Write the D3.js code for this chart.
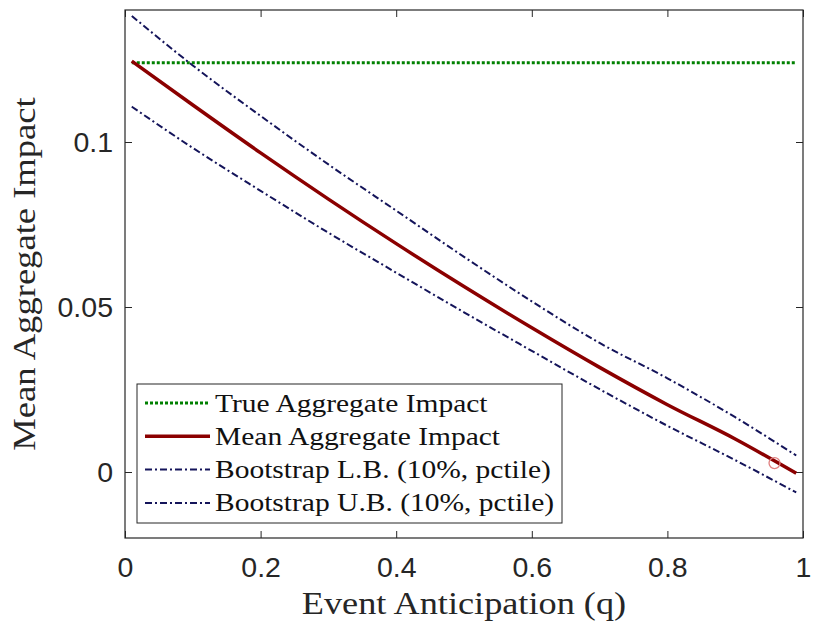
<!DOCTYPE html>
<html>
<head>
<meta charset="utf-8">
<script src="https://cdn.jsdelivr.net/npm/d3@7"></script>
<style>
  body { margin: 0; background: #fff; }
  .tick text { font-family: "Liberation Sans", Arial, sans-serif; font-size: 28.5px; fill: #262626; }
  .tick line { stroke: #262626; }
</style>
</head>
<body>
<svg id="chart" width="814" height="629"></svg>
<script>
// values
var qValues      = [0.01, 0.1, 0.2, 0.3, 0.4, 0.5, 0.6, 0.7, 0.8, 0.9, 0.99];
var meanImpact   = [0.1245, 0.1112, 0.0967, 0.0827, 0.0692, 0.0562, 0.0437, 0.0317, 0.0204, 0.0100, -0.0004];
var upperBound   = [0.1382, 0.1232, 0.1079, 0.0932, 0.0792, 0.0652, 0.0517, 0.0391, 0.0284, 0.0166, 0.0050];
var lowerBound   = [0.1107, 0.0982, 0.0852, 0.0725, 0.0604, 0.0484, 0.0367, 0.0251, 0.0140, 0.0036, -0.0062];
var trueImpact   = [0.1240, 0.1240];
var trueQ        = [0.01, 0.99];
var markerPoint  = [[0.958, 0.0027]];
var xTicks = [0, 0.2, 0.4, 0.6, 0.8, 1];
var yTicks = [0, 0.05, 0.1];
var legendLabels = ["True Aggregate Impact", "Mean Aggregate Impact",
                    "Bootstrap L.B. (10%, pctile)", "Bootstrap U.B. (10%, pctile)"];

var margin = {left: 125, right: 11, top: 10, bottom: 91};
var width = 814 - margin.left - margin.right;
var height = 629 - margin.top - margin.bottom;

var svg = d3.select("#chart");
var g = svg.append("g").attr("transform", "translate(" + margin.left + "," + margin.top + ")");

var x = d3.scaleLinear().domain([0, 1]).range([0, width]);
var y = d3.scaleLinear().domain([-0.02, 0.14]).range([height, 0]);

// serif text in the picture is wider than Liberation Serif, stretch it a bit
function widen(sel, k) {
    sel.each(function() {
        var len = this.getComputedTextLength();
        d3.select(this).attr("textLength", len * k).attr("lengthAdjust", "spacingAndGlyphs");
    });
}

// axes, ticks pointing inward on all four sides
g.append("g").attr("transform", "translate(0," + height + ")")
    .call(d3.axisBottom(x).tickValues(xTicks).tickSize(-7).tickPadding(19)
        .tickFormat(function(d) { return d3.format("")(d); }))
    .call(function(a) { a.select(".domain").remove(); });
g.append("g")
    .call(d3.axisLeft(y).tickValues(yTicks).tickSize(-7).tickPadding(12)
        .tickFormat(function(d) { return d3.format("")(d); }))
    .call(function(a) { a.select(".domain").remove(); });
g.append("g")
    .call(d3.axisTop(x).tickValues(xTicks).tickSize(-7).tickFormat(""))
    .call(function(a) { a.select(".domain").remove(); });
g.append("g").attr("transform", "translate(" + width + ",0)")
    .call(d3.axisRight(y).tickValues(yTicks).tickSize(-7).tickFormat(""))
    .call(function(a) { a.select(".domain").remove(); });

g.append("rect")
    .attr("width", width).attr("height", height)
    .attr("fill", "none").attr("stroke", "#262626").attr("stroke-width", 1.2);

// lines
var line = d3.line().curve(d3.curveMonotoneX)
    .x(function(d) { return x(d[0]); })
    .y(function(d) { return y(d[1]); });

var series = [
    {vals: d3.zip(trueQ, trueImpact), color: "#008000", w: 3, dash: "3,2"},
    {vals: d3.zip(qValues, upperBound), color: "#14145a", w: 2, dash: "7,3,2,3"},
    {vals: d3.zip(qValues, lowerBound), color: "#14145a", w: 2, dash: "7,3,2,3"},
    {vals: d3.zip(qValues, meanImpact), color: "#8b0000", w: 3.5, dash: null}
];

g.selectAll(".series").data(series).enter().append("path")
    .attr("class", "series")
    .attr("d", function(d) { return line(d.vals); })
    .attr("fill", "none")
    .attr("stroke", function(d) { return d.color; })
    .attr("stroke-width", function(d) { return d.w; })
    .attr("stroke-dasharray", function(d) { return d.dash; });

g.selectAll(".marker").data(markerPoint).enter().append("circle")
    .attr("class", "marker")
    .attr("cx", function(d) { return x(d[0]); })
    .attr("cy", function(d) { return y(d[1]); })
    .attr("r", 5.5)
    .attr("fill", "none")
    .attr("stroke", "#e08080")
    .attr("stroke-width", 1.3);

// axis titles
svg.append("text")
    .attr("x", margin.left + width / 2).attr("y", 614)
    .attr("text-anchor", "middle")
    .style("font-family", "'Liberation Serif', 'Times New Roman', serif")
    .style("font-size", "31px").style("fill", "#262626")
    .text("Event Anticipation (q)")
    .call(widen, 1.17);

svg.append("text")
    .attr("transform", "translate(35," + (margin.top + height / 2) + ") rotate(-90)")
    .attr("text-anchor", "middle")
    .style("font-family", "'Liberation Serif', 'Times New Roman', serif")
    .style("font-size", "31px").style("fill", "#262626")
    .text("Mean Aggregate Impact")
    .call(widen, 1.18);

// legend
var legendStyles = [series[0], series[3], series[1], series[2]];
var legend = svg.append("g").attr("transform", "translate(137,384)");
legend.append("rect")
    .attr("width", 425).attr("height", 139)
    .attr("fill", "#fff").attr("stroke", "#262626").attr("stroke-width", 1);

var rows = legend.selectAll(".row").data(legendLabels).enter().append("g")
    .attr("class", "row")
    .attr("transform", function(d, i) { return "translate(0," + (19 + i * 33.3) + ")"; });

rows.append("line")
    .attr("x1", 8).attr("x2", 73)
    .attr("stroke", function(d, i) { return legendStyles[i].color; })
    .attr("stroke-width", function(d, i) { return legendStyles[i].w; })
    .attr("stroke-dasharray", function(d, i) { return legendStyles[i].dash; });

rows.append("text")
    .attr("x", 78).attr("y", 8.5)
    .style("font-family", "'Liberation Serif', 'Times New Roman', serif")
    .style("font-size", "25px").style("fill", "#111")
    .text(function(d) { return d; })
    .call(widen, 1.18);
</script>
</body>
</html>
